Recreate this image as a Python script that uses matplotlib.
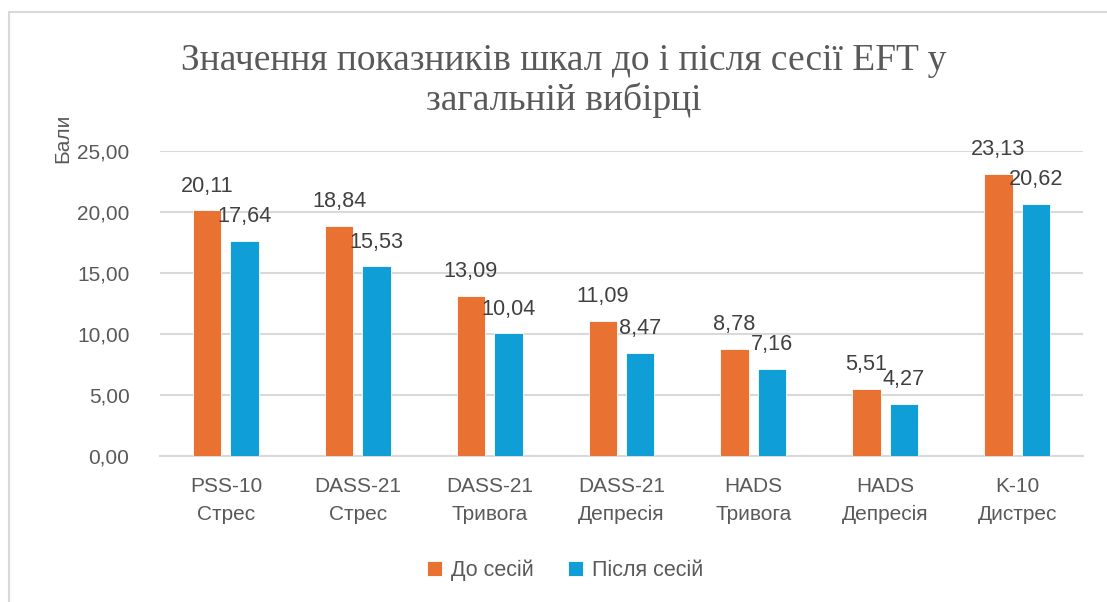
import matplotlib
matplotlib.use('Agg')
import matplotlib.pyplot as plt
from matplotlib.patches import Rectangle
import numpy as np

# data
categories = ['PSS-10\nСтрес', 'DASS-21\nСтрес', 'DASS-21\nТривога', 'DASS-21\nДепресія',
              'HADS\nТривога', 'HADS\nДепресія', 'K-10\nДистрес']
before = [20.11, 18.84, 13.09, 11.09, 8.78, 5.51, 23.13]
after = [17.64, 15.53, 10.04, 8.47, 7.16, 4.27, 20.62]
yticks = [0, 5, 10, 15, 20, 25]
series_names = ['До сесій', 'Після сесій']
title = 'Значення показників шкал до і після сесії EFT у\nзагальній вибірці'
ylabel = 'Бали'

ORANGE = '#E97132'
BLUE = '#0F9ED5'
TXT = '#595959'
GRID = '#D9D9D9'

plt.rcParams['font.family'] = ['Liberation Sans', 'DejaVu Sans']

W, H = 1107, 602
fig = plt.figure(figsize=(W / 100, H / 100), dpi=100)

# chart border
fig.patches.append(Rectangle((9 / W, -0.1), 1.2, (H - 12) / H + 0.1, transform=fig.transFigure,
                             fill=False, edgecolor=GRID, linewidth=1.5))

ax = fig.add_axes([160 / W, (H - 456) / H, (1083 - 160) / W, (456 - 150.7) / H])

x = np.arange(len(categories))
bw = 0.216
off = 0.142
b1 = ax.bar(x - off, before, bw, color=ORANGE, edgecolor='white', linewidth=0.6, label=series_names[0], zorder=3)
b2 = ax.bar(x + off, after, bw, color=BLUE, edgecolor='white', linewidth=0.6, label=series_names[1], zorder=3)

for bars, vals in ((b1, before), (b2, after)):
    for rect, v in zip(bars, vals):
        ax.annotate(f'{v:.2f}'.replace('.', ','),
                    (rect.get_x() + rect.get_width() / 2, rect.get_height()),
                    xytext=(0, 13.5), textcoords='offset points',
                    ha='center', va='baseline', fontsize=15.6, color='#404040',
                    annotation_clip=False, zorder=5)

ax.set_xlim(-0.5, len(categories) - 0.5)
ax.set_ylim(0, 25)
ax.set_yticks(yticks)
ax.set_yticklabels([f'{t:.2f}'.replace('.', ',') for t in yticks])
ax.set_xticks(x)
ax.set_xticklabels(categories, linespacing=1.6)
ax.tick_params(axis='both', length=0, labelsize=15, labelcolor=TXT)
ax.tick_params(axis='y', pad=22)
ax.tick_params(axis='x', pad=15)
ax.grid(axis='y', color=GRID, linewidth=1.5, zorder=0)
for s in ['top', 'right', 'left']:
    ax.spines[s].set_visible(False)
ax.spines['bottom'].set_color(GRID)
ax.spines['bottom'].set_linewidth(1.5)

fig.text(63 / W, 1 - 138 / H, ylabel, rotation=90, ha='center', va='center', fontsize=15, color=TXT)

fig.text(564 / W, 1 - 81 / H, title, ha='center', va='center', fontsize=27,
         family=['Liberation Serif', 'DejaVu Serif'], color=TXT, linespacing=1.15)

fig.legend(loc='center', bbox_to_anchor=(565 / W, 1 - 570 / H), ncol=2, frameon=False,
           fontsize=15.5, labelcolor=TXT, handlelength=0.7, handleheight=0.7,
           handletextpad=0.4, columnspacing=1.6)

fig.savefig('out.png', dpi=100, facecolor='white')
